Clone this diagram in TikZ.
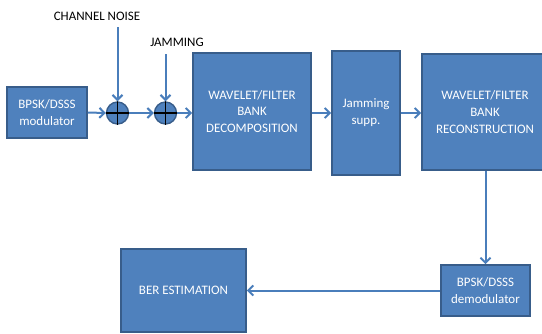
\documentclass[tikz,border=0pt]{standalone}
\usepackage{fontspec}
\setmainfont{Carlito}
\usetikzlibrary{arrows.meta}
\definecolor{boxfill}{HTML}{4F81BD}
\definecolor{boxdraw}{HTML}{385D8A}
\definecolor{linec}{HTML}{4A7EBB}
\begin{document}
\begin{tikzpicture}[x=1bp,y=-1bp,
  blk/.style={draw=boxdraw,fill=boxfill,line width=1.8bp,text=white,align=center,
    inner sep=0pt,font=\fontsize{13}{17}\selectfont},
  sumc/.style={circle,draw=boxdraw,fill=boxfill,line width=1.4bp,minimum size=22bp,inner sep=0pt},
  conn/.style={draw=linec,line width=2bp,-{Straight Barb[length=5bp,width=10bp,line width=2bp]}},
  lbl/.style={text=black,inner sep=0pt,font=\fontsize{13}{15}\selectfont}
]
\useasboundingbox (0,0) rectangle (542,333);
\node[blk,minimum width=80bp,minimum height=51bp] (mod) at (47,112.5) {BPSK/DSSS\\modulator};
\node[sumc] (s1) at (117.5,113) {};
\node[sumc] (s2) at (165.5,113) {};
\draw[black,line width=1.4bp] (s1.north)--(s1.south) (s1.west)--(s1.east);
\draw[black,line width=1.4bp] (s2.north)--(s2.south) (s2.west)--(s2.east);
\node[blk,minimum width=118bp,minimum height=117bp] (dec) at (252,111.5) {WAVELET/FILTER\\BANK\\DECOMPOSITION};
\node[blk,minimum width=68bp,minimum height=124bp] (sup) at (366,113) {Jamming\\supp.};
\node[blk,minimum width=126bp,minimum height=116bp] (rec) at (485,112) {WAVELET/FILTER\\BANK\\RECONSTRUCTION};
\node[blk,minimum width=89bp,minimum height=51bp] (dem) at (485.5,290.5) {BPSK/DSSS\\demodulator};
\node[blk,minimum width=125bp,minimum height=83bp] (ber) at (183.5,290.5) {BER ESTIMATION};
\node[lbl] (cnl) at (97,16) {CHANNEL NOISE};
\node[lbl] (jml) at (177,42) {JAMMING};
\coordinate (cn) at (117.5,27);
\coordinate (jm) at (165.5,54);
\draw[conn] (cn) -- (s1.north);
\draw[conn] (jm) -- (s2.north);
\draw[conn] (mod.east) -- (s1.west);
\draw[conn] (s1.east) -- (s2.west);
\draw[conn] (s2.east) -- (s2.east -| dec.west);
\draw[conn] (dec.east |- sup) -- (sup.west);
\draw[conn] (sup.east) -- (sup.east -| rec.west);
\draw[conn] (rec.south -| dem.north) -- (dem.north);
\draw[conn] (dem.west) -- (dem.west -| ber.east);
\end{tikzpicture}
\end{document}
